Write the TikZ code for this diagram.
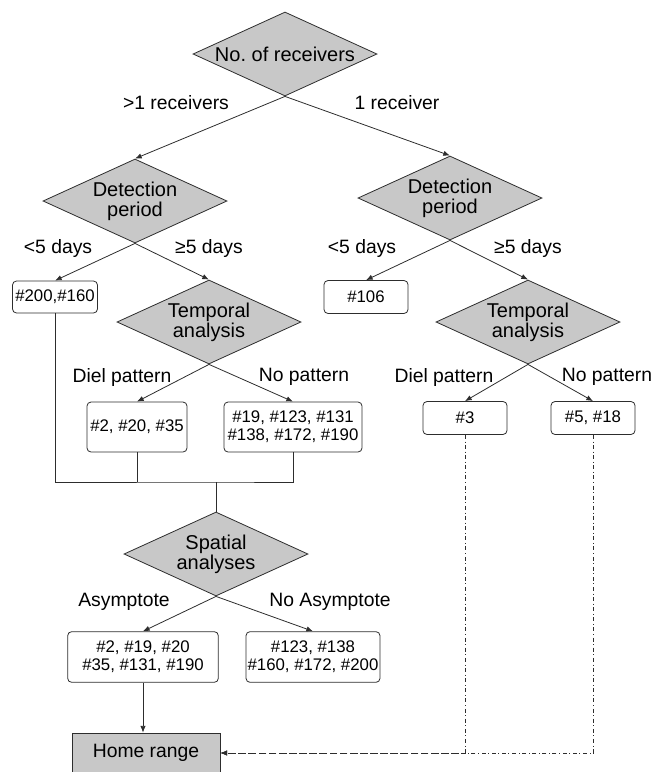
\documentclass[tikz,border=0pt]{standalone}
\usepackage{fontspec}
\setmainfont{Liberation Sans}
\usetikzlibrary{shapes.geometric,arrows.meta}

\definecolor{boxgray}{RGB}{200,200,200}
\definecolor{linegray}{RGB}{45,45,45}

\tikzset{
  decision/.style={shape=diamond,draw=linegray,fill=boxgray,line width=0.6pt,
    aspect=2.2,inner sep=0pt,minimum width=138pt,minimum height=63pt,
    align=center,font=\fontsize{15}{15}\selectfont},
  leaf/.style={draw=linegray,rounded corners=3pt,line width=0.6pt,inner sep=1pt,
    align=center,font=\fontsize{12.6}{13.5}\selectfont},
  lbl/.style={inner sep=0pt,font=\fontsize{14.5}{15}\selectfont},
  arr/.style={draw=linegray,line width=0.6pt,-{Latex[length=5pt,width=4pt]}},
  link/.style={draw=linegray,line width=0.6pt},
  back/.style={draw=linegray,line width=0.6pt,dash dot,-{Latex[length=5pt,width=4pt]}}
}

\begin{document}
\begin{tikzpicture}[x=0.75pt,y=0.75pt,yscale=-1,xscale=1]
\useasboundingbox (0,0) rectangle (654,772);

% Decision nodes
\node [decision] (rcv) at (285,54) {No.\ of receivers};
\node [decision] (dpL) at (135,201) {Detection\\period};
\node [decision] (dpR) at (450,198) {Detection\\period};
\node [decision] (taL) at (209,322) {Temporal\\analysis};
\node [decision] (taR) at (528,322) {Temporal\\analysis};
\node [decision] (spat) at (216,554) {Spatial\\analyses};

% Fish boxes
\node [leaf,minimum width=63.75pt,minimum height=24pt] (b200) at (55,297) {\#200,\#160};
\node [leaf,minimum width=63pt,minimum height=24.75pt] (b106) at (366,297) {\#106};
\node [leaf,minimum width=75pt,minimum height=37.5pt] (b2) at (137,427) {\#2, \#20, \#35};
\node [leaf,minimum width=103.5pt,minimum height=37.5pt] (b19) at (293,427) {\#19, \#123, \#131\\\#138, \#172, \#190};
\node [leaf,minimum width=63pt,minimum height=24.75pt] (b3) at (465,418) {\#3};
\node [leaf,minimum width=63pt,minimum height=24.75pt] (b5) at (593,418) {\#5, \#18};
\node [leaf,minimum width=113pt,minimum height=38pt] (asy) at (143,657) {\#2, \#19, \#20\\\#35, \#131, \#190};
\node [leaf,minimum width=100.5pt,minimum height=38pt] (noasy) at (313,657) {\#123, \#138\\\#160, \#172, \#200};
\node [draw=linegray,fill=boxgray,line width=0.6pt,minimum width=111pt,minimum height=30pt,
  font=\fontsize{14.5}{15}\selectfont] (home) at (146,753) {Home range};

% Branch labels
\node [lbl] (l1) at (176,103) {>1 receivers};
\node [lbl] (l2) at (397,103) {1 receiver};
\node [lbl] (l3) at (58,248) {<5 days};
\node [lbl] (l4) at (209,248) {≥5 days};
\node [lbl] (l5) at (362,248) {<5 days};
\node [lbl] (l6) at (528,248) {≥5 days};
\node [lbl] (l7) at (122,377) {Diel pattern};
\node [lbl] (l8) at (304,377) {No pattern};
\node [lbl] (l9) at (444,377) {Diel pattern};
\node [lbl] (l10) at (607,377) {No pattern};
\node [lbl] (l11) at (124,602) {Asymptote};
\node [lbl] (l12) at (330,602) {No Asymptote};

% Arrows
\draw [arr] (rcv.south) -- (dpL.north);
\draw [arr] (rcv.south) -- (dpR.north);
\draw [arr] (dpL.south) -- (b200.north);
\draw [arr] (dpL.south) -- (taL.north);
\draw [arr] (dpR.south) -- (b106.north);
\draw [arr] (dpR.south) -- (taR.north);
\draw [arr] (taL.south) -- (b2.north);
\draw [arr] (taL.south) -- (b19.north);
\draw [arr] (taR.south) -- (b3.north);
\draw [arr] (taR.south) -- (b5.north);
\draw [arr] (spat.south) -- (asy.north);
\draw [arr] (spat.south) -- (noasy.north);
\draw [arr] (asy.south) -- (asy.south |- home.north);

% Merge into spatial analyses
\coordinate (mrg) at (216,482);
\draw [link] (b200.south) |- (mrg) -| (b19.south);
\draw [link] (b2.south) -- (b2.south |- mrg);
\draw [link] (mrg) -- (spat.north);

% Single receiver fish go to home range
\draw [back] (b3.south) |- (home.east);
\draw [back] (b5.south) |- (home.east);

\end{tikzpicture}
\end{document}
